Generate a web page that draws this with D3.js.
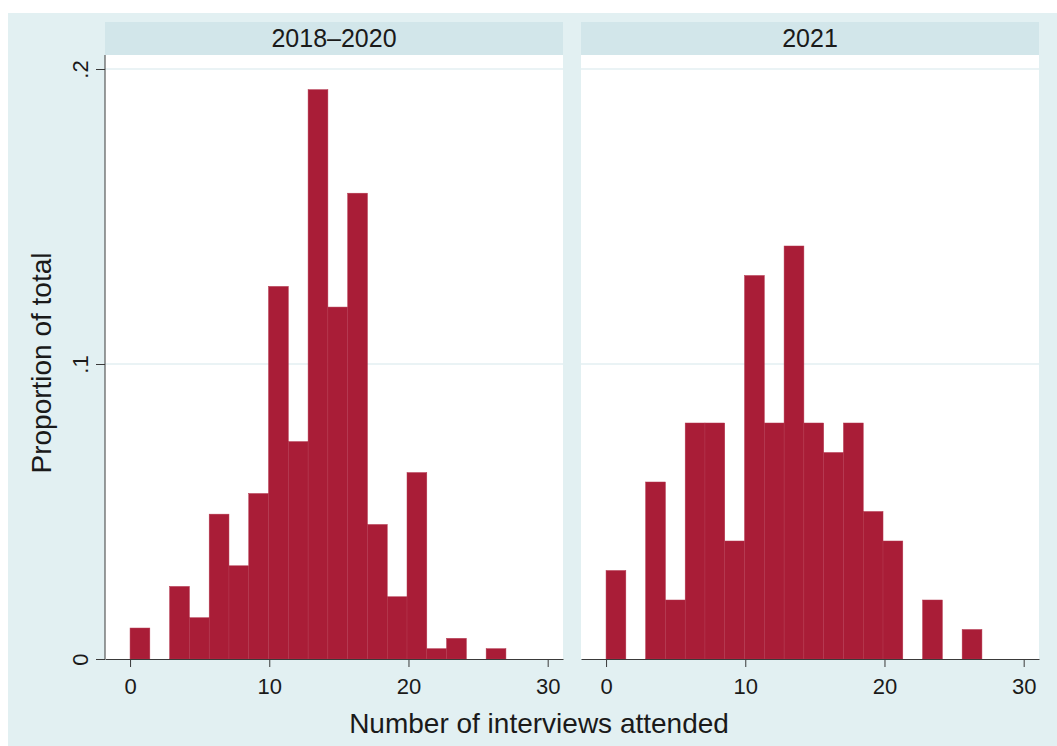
<!DOCTYPE html>
<html>
<head>
<meta charset="utf-8">
<script src="https://cdn.jsdelivr.net/npm/d3@7"></script>
<style>
  body { margin: 0; background: #ffffff; }
  text { font-family: "Liberation Sans", Arial, sans-serif; fill: #1a1a1a; }
</style>
</head>
<body>
<div id="chart"></div>
<script>
// --------------------------------------
//  data
// --------------------------------------

const binEdges = [0, 1.421, 2.842, 4.263, 5.684, 7.105, 8.526, 9.947, 11.368, 12.789,
  14.211, 15.632, 17.053, 18.474, 19.895, 21.316, 22.737, 24.158, 25.579, 27];

const share2018_2020 = [0.0105, 0, 0.0246, 0.014, 0.0491, 0.0316, 0.0561, 0.1263, 0.0737, 0.193,
  0.1193, 0.1579, 0.0456, 0.0211, 0.0632, 0.0035, 0.007, 0, 0.0035];

const share2021 = [0.03, 0, 0.06, 0.02, 0.08, 0.08, 0.04, 0.13, 0.08, 0.14,
  0.08, 0.07, 0.08, 0.05, 0.04, 0, 0.02, 0, 0.01];

const panelNames = ["2018\u20132020", "2021"];
const xTicks = [0, 10, 20, 30];
const yTicks = [0, 0.1, 0.2];
const yTickLabels = ["0", ".1", ".2"];

// --------------------------------------
//  Canvas
// --------------------------------------

const width = 1057, height = 746;
const stripTop = 22, stripH = 33;
const plotTop = stripTop + stripH, plotBottom = 659;
const ph = plotBottom - plotTop, pw = 458;
const panelLeft = [105, 581];
const barColor = "#a91d37";

const svg = d3.select("#chart")
  .append("svg")
    .attr("width", width)
    .attr("height", height);

svg.append("rect")
    .attr("x", 8).attr("y", 13)
    .attr("width", width - 8).attr("height", height - 13)
    .attr("fill", "#e2f0f2");

// --------------------------------------
//  Scales
// --------------------------------------

let x = d3.scaleLinear()
    .domain([-1.8, 31.1])
    .range([0, pw]);

let y = d3.scaleLinear()
    .domain([0, 0.2])
    .range([ph, 14]);

// --------------------------------------
//  panels
// --------------------------------------

const series = [share2018_2020, share2021];

series.forEach((vals, p) => {

  const g = svg.append("g")
      .attr("transform", `translate(${panelLeft[p]}, ${plotTop})`);

  // strip
  g.append("rect")
      .attr("x", 0).attr("y", -stripH)
      .attr("width", pw).attr("height", stripH)
      .attr("fill", "#d2e6ea");

  g.append("text")
      .attr("x", pw / 2).attr("y", -8)
      .attr("text-anchor", "middle")
      .attr("font-size", 25)
      .text(panelNames[p]);

  // plot region
  g.append("rect")
      .attr("width", pw).attr("height", ph)
      .attr("fill", "#ffffff");

  g.selectAll(".grid")
    .data(yTicks.filter(d => d > 0))
    .join("line")
      .attr("class", "grid")
      .attr("x1", 0).attr("x2", pw)
      .attr("y1", d => y(d)).attr("y2", d => y(d))
      .attr("stroke", "#e3eff2")
      .attr("stroke-width", 1.5);

  const bins = vals.map((v, i) => ({ x0: binEdges[i], x1: binEdges[i + 1], v: v }))
    .filter(d => d.v > 0);

  g.selectAll(".bar")
    .data(bins)
    .join("rect")
      .attr("class", "bar")
      .attr("x", d => x(d.x0))
      .attr("y", d => y(d.v))
      .attr("width", d => x(d.x1) - x(d.x0))
      .attr("height", d => y(0) - y(d.v))
      .attr("fill", barColor)
      .attr("stroke", "#b4374e")
      .attr("stroke-width", 0.5);

  // x axis
  const xa = g.append("g")
      .attr("transform", `translate(0, ${ph})`)
      .call(d3.axisBottom(x).tickValues(xTicks)
        .tickSize(8)
        .tickSizeOuter(0)
        .tickPadding(11));
  xa.selectAll("text").attr("font-size", 22).style("font-family", null);
  xa.attr("font-family", null);
  xa.selectAll("path, line").attr("stroke", "#3a3a3a");

  // y axis only on first panel
  if (p === 0) {
    const ya = g.append("g")
        .call(d3.axisLeft(y).tickValues(yTicks)
          .tickFormat((d, i) => yTickLabels[i])
          .tickSize(9)
          .tickSizeOuter(0));
    ya.attr("font-family", null);
    ya.select(".domain").remove();
    ya.append("line")
        .attr("x1", 0).attr("x2", 0)
        .attr("y1", 0).attr("y2", ph)
        .attr("stroke", "#3a3a3a");
    ya.selectAll("line").attr("stroke", "#3a3a3a");
    ya.selectAll(".tick text")
        .attr("font-size", 22)
        .attr("transform", "rotate(-90)")
        .attr("x", 0)
        .attr("y", -17)
        .attr("dy", 0)
        .attr("text-anchor", "middle");
  }
});

// --------------------------------------
//  titles
// --------------------------------------

svg.append("text")
    .attr("x", 539).attr("y", 733)
    .attr("text-anchor", "middle")
    .attr("font-size", 28)
    .text("Number of interviews attended");

svg.append("text")
    .attr("transform", "translate(51, 363) rotate(-90)")
    .attr("text-anchor", "middle")
    .attr("font-size", 28)
    .text("Proportion of total");
</script>
</body>
</html>
